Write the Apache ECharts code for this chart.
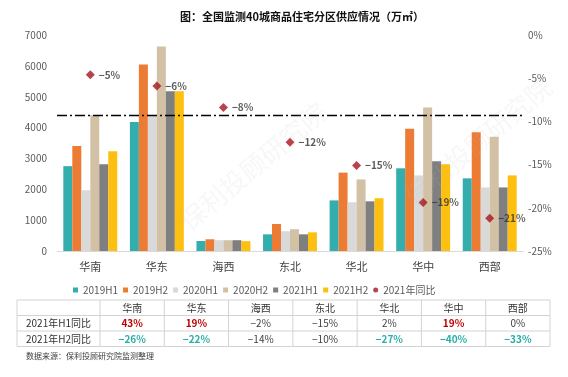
<!DOCTYPE html>
<html>
<head>
<meta charset="utf-8">
<title>全国监测40城商品住宅分区供应情况</title>
<script src="https://cdn.jsdelivr.net/npm/echarts@6/dist/echarts.min.js"></script>
<style>
  html, body { margin: 0; padding: 0; background: #fff; }
  #main { width: 568px; height: 377px; }
</style>
</head>
<body>
<div id="main"></div>
<script>
// 分区
const categories = ['华南', '华东', '海西', '东北', '华北', '华中', '西部']
// 供应面积（万㎡）
const s2019H1 = [2750, 4180, 325, 540, 1640, 2680, 2355]
const s2019H2 = [3400, 6040, 380, 875, 2540, 3960, 3850]
const s2020H1 = [1970, 4380, 350, 640, 1580, 2450, 2060]
const s2020H2 = [4400, 6630, 350, 705, 2320, 4650, 3700]
const s2021H1 = [2810, 5180, 350, 540, 1610, 2905, 2060]
const s2021H2 = [3230, 5180, 320, 605, 1710, 2810, 2450]
// 2021年同比（%）
const yoy2021 = [-4.6, -5.9, -8.4, -12.4, -15.1, -19.4, -21.2]
// 表格
const h1Yoy = [43, 19, -2, -15, 2, 19, 0]
const h2Yoy = [-26, -22, -14, -10, -27, -40, -33]
const avgLine = 4400

const seriesNames = ['2019H1', '2019H2', '2020H1', '2020H2', '2021H1', '2021H2']
const seriesData = [s2019H1, s2019H2, s2020H1, s2020H2, s2021H1, s2021H2]
const colors = ['#33ADAD', '#EC7B33', '#D9D9D9', '#D2C1A4', '#7F7F7F', '#FDC010']

const font = "'Noto Sans CJK SC', 'Noto Sans', sans-serif"
const fmtPct = (v) => (v < 0 ? '\u2212' + Math.abs(v) : String(v)) + '%'

const chart = echarts.init(document.getElementById('main'))

// 表格（graphic）
const tLeft = 17
const tFirst = 100
const tRight = 550
const colW = (tRight - tFirst) / categories.length
const rowY = [300, 315.5, 331, 346.5]
const lineColor = '#D3D3D3'
const graphic = []
rowY.forEach((y) => {
  graphic.push({ type: 'line', shape: { x1: tLeft, y1: y, x2: tRight, y2: y }, style: { stroke: lineColor, lineWidth: 1 } })
})
for (let i = 0; i <= categories.length; i++) {
  const x = tFirst + colW * i
  graphic.push({ type: 'line', shape: { x1: x, y1: rowY[0], x2: x, y2: rowY[3] }, style: { stroke: lineColor, lineWidth: 1 } })
}
graphic.push({ type: 'line', shape: { x1: tLeft, y1: rowY[0], x2: tLeft, y2: rowY[3] }, style: { stroke: lineColor, lineWidth: 1 } })
const cellText = (text, x, y, color, bold) => ({
  type: 'text',
  x: x,
  y: y,
  style: {
    text: text,
    fill: color,
    font: (bold ? 'bold ' : '') + '10px ' + font,
    align: 'center',
    verticalAlign: 'middle'
  }
})
const rowMid = (r) => (rowY[r] + rowY[r + 1]) / 2
graphic.push(cellText('2021年H1同比', (tLeft + tFirst) / 2, rowMid(1), '#333'))
graphic.push(cellText('2021年H2同比', (tLeft + tFirst) / 2, rowMid(2), '#333'))
categories.forEach((c, i) => {
  const cx = tFirst + colW * (i + 0.5)
  graphic.push(cellText(c, cx, rowMid(0), '#333'))
  ;[h1Yoy, h2Yoy].forEach((arr, r) => {
    const v = arr[i]
    let color = '#404040'
    let bold = false
    if (v >= 10) { color = '#C00000'; bold = true }
    if (v <= -20) { color = '#2AAFA6'; bold = true }
    graphic.push(cellText(fmtPct(v), cx, rowMid(r + 1), color, bold))
  })
})
graphic.push({
  type: 'text', x: 26, y: 356,
  style: { text: '数据来源：保利投顾研究院监测整理', fill: '#404040', font: '8px ' + font, verticalAlign: 'middle' }
})
// 水印
graphic.push({
  type: 'text', x: 175, y: 215, rotation: Math.PI / 4.5, z: 100,
  style: { text: '保利投顾研究院', fill: 'rgba(190,190,190,0.12)', font: '26px ' + font }
})
graphic.push({
  type: 'text', x: 400, y: 190, rotation: Math.PI / 4.5, z: 100,
  style: { text: '保利投顾研究院', fill: 'rgba(190,190,190,0.12)', font: '26px ' + font }
})

const barSeries = seriesNames.map((name, i) => {
  const s = {
    name: name,
    type: 'bar',
    yAxisIndex: 0,
    barGap: 0,
    barCategoryGap: '19%',
    itemStyle: { color: colors[i] },
    data: seriesData[i],
    animation: false
  }
  if (i === 0) {
    s.markLine = {
      silent: true,
      symbol: 'none',
      label: { show: false },
      lineStyle: { color: '#000', width: 1.3, type: [10, 3, 2, 3] },
      data: [{ yAxis: avgLine }]
    }
  }
  return s
})

chart.setOption({
  textStyle: { fontFamily: font },
  graphic: graphic,
  title: {
    text: '图：全国监测40城商品住宅分区供应情况（万㎡）',
    left: 180,
    top: 11,
    padding: 0,
    textStyle: { fontSize: 11, fontWeight: 'bold', color: '#111', fontFamily: font }
  },
  legend: {
    left: 68,
    top: 280,
    itemWidth: 5,
    itemHeight: 5,
    itemGap: 5,
    textStyle: { fontSize: 10, color: '#595959' },
    data: seriesNames.map((n) => ({ name: n, icon: 'rect' })).concat([{ name: '2021年同比', icon: 'circle' }])
  },
  grid: { left: 57, right: 45, top: 35, bottom: 126 },
  xAxis: {
    type: 'category',
    data: categories,
    axisLine: { lineStyle: { color: '#D9D9D9' } },
    axisTick: { show: false },
    axisLabel: { color: '#404040', fontSize: 11, margin: 10 }
  },
  yAxis: [{
    type: 'value',
    min: 0,
    max: 7000,
    interval: 1000,
    splitLine: { show: false },
    axisLine: { show: false },
    axisTick: { show: false },
    axisLabel: { color: '#595959', fontSize: 10, margin: 10, formatter: (v) => String(v) }
  }, {
    type: 'value',
    min: -25,
    max: 0,
    interval: 5,
    position: 'right',
    splitLine: { show: false },
    axisLine: { show: false },
    axisTick: { show: false },
    axisLabel: { color: '#595959', fontSize: 10, margin: 5, formatter: '{value}%' }
  }],
  series: barSeries.concat([{
    name: '2021年同比',
    type: 'scatter',
    yAxisIndex: 1,
    symbol: 'diamond',
    symbolSize: 9,
    itemStyle: { color: '#A8131F' },
    label: {
      show: true,
      position: 'right',
      distance: 4,
      color: '#333',
      fontSize: 10,
      fontWeight: 'bold',
      formatter: (p) => '\u2212' + Math.abs(p.value).toFixed(0) + '%'
    },
    data: yoy2021,
    z: 10,
    animation: false
  }])
})
</script>
</body>
</html>
